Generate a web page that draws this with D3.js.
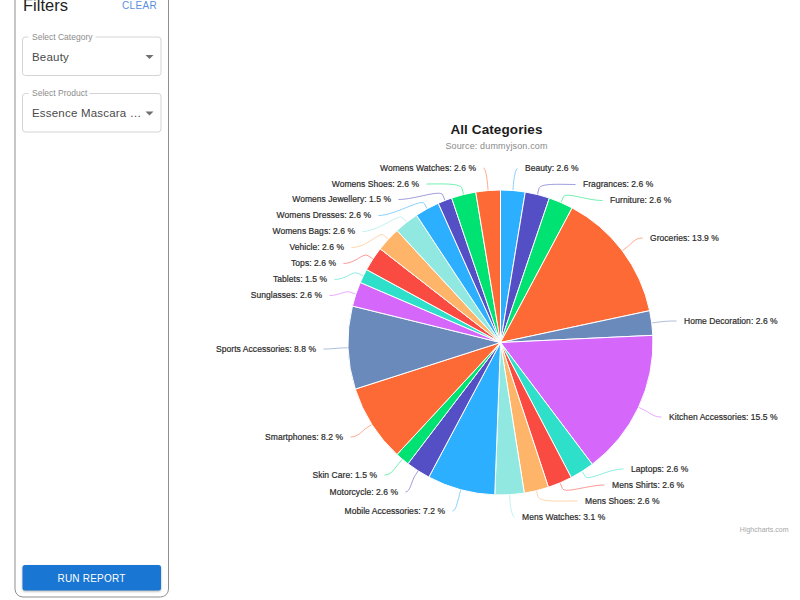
<!DOCTYPE html>
<html>
<head>
<meta charset="utf-8">
<script src="https://cdn.jsdelivr.net/npm/d3@7"></script>
<style>
  html, body { margin: 0; padding: 0; background: #fff; overflow: hidden; }
  text { font-family: "Liberation Sans", Arial, sans-serif; }
</style>
</head>
<body>
<svg id="main-svg" width="800" height="600"></svg>
<script>
// chart data, percent of all products
const categories = [
  "Beauty", "Fragrances", "Furniture", "Groceries", "Home Decoration",
  "Kitchen Accessories", "Laptops", "Mens Shirts", "Mens Shoes", "Mens Watches",
  "Mobile Accessories", "Motorcycle", "Skin Care", "Smartphones", "Sports Accessories",
  "Sunglasses", "Tablets", "Tops", "Vehicle", "Womens Bags",
  "Womens Dresses", "Womens Jewellery", "Womens Shoes", "Womens Watches",
];
const shares = [
  2.6, 2.6, 2.6, 13.9, 2.6,
  15.5, 2.6, 2.6, 2.6, 3.1,
  7.2, 2.6, 1.5, 8.2, 8.8,
  2.6, 1.5, 2.6, 2.6, 2.6,
  2.6, 1.5, 2.6, 2.6,
];
const palette = [
  "#2caffe", "#544fc5", "#00e272", "#fe6a35", "#6b8abc",
  "#d568fb", "#2ee0ca", "#fa4b42", "#feb56a", "#91e8e1",
];

// where the collision layout put each label: near edge of the text, middle of the row
const labelAnchors = [
  [525, 168.5], [583, 184.5], [610, 200.5], [650, 238], [684, 321],
  [669, 417], [631, 469], [612, 485], [585, 501], [522, 517],
  [445, 511], [398, 492], [377, 475], [343, 437], [316, 349],
  [322, 295.5], [327, 279.5], [336, 263.5], [344, 247.5], [355, 231.5],
  [371, 215.5], [391, 199.5], [419, 184], [476, 168],
];

const svg = d3.select("#main-svg");

// ---- filter panel ----
const panel = svg.append("g");

panel.append("rect")
  .attr("x", 15).attr("y", -20)
  .attr("width", 153.5).attr("height", 617)
  .attr("rx", 8)
  .attr("fill", "#fff")
  .attr("stroke", "#8f8f8f");

panel.append("text")
  .attr("x", 23).attr("y", 10.5)
  .attr("font-size", 16.5)
  .attr("fill", "#222")
  .text("Filters");

panel.append("text")
  .attr("x", 122).attr("y", 9)
  .attr("font-size", 10)
  .attr("letter-spacing", 0.35)
  .attr("fill", "#5b8fe0")
  .text("CLEAR");

const selects = [
  { label: "Select Category", value: "Beauty", top: 37, gap: 73 },
  { label: "Select Product", value: "Essence Mascara …", top: 93.5, gap: 67 },
];

selects.forEach((s) => {
  const g = panel.append("g").attr("transform", `translate(22.5, ${s.top})`);
  g.append("rect")
    .attr("width", 138.5).attr("height", 38.5)
    .attr("rx", 3)
    .attr("fill", "#fff")
    .attr("stroke", "#d4d4d4");
  // break in the outline behind the floating label
  g.append("line")
    .attr("x1", 6).attr("x2", s.gap)
    .attr("stroke", "#fff").attr("stroke-width", 2);
  g.append("text")
    .attr("x", 9.5).attr("y", 2.5)
    .attr("font-size", 8.5)
    .attr("fill", "#8c8c8c")
    .text(s.label);
  g.append("text")
    .attr("x", 9.5).attr("y", 23.5)
    .attr("font-size", 11.5)
    .attr("letter-spacing", 0.2)
    .attr("fill", "#4a4a4a")
    .text(s.value);
  g.append("path")
    .attr("d", "M123,18 L131,18 L127,22 Z")
    .attr("fill", "#6f6f6f");
});

panel.append("rect")
  .attr("x", 22.5).attr("y", 565)
  .attr("width", 138.5).attr("height", 25.5)
  .attr("rx", 2.5)
  .attr("fill", "#1976d2")
  .style("filter", "drop-shadow(0 1px 1px rgba(0,0,0,0.3))");

panel.append("text")
  .attr("x", 91.5).attr("y", 581.5)
  .attr("text-anchor", "middle")
  .attr("font-size", 10)
  .attr("letter-spacing", 0.2)
  .attr("fill", "#fff")
  .text("RUN REPORT");

// ---- pie ----
const cx = 500.5;
const cy = 342.5;
const radius = 152.5;
const breakOffset = 6; // where the connector leaves the radial direction
const labelGap = 7.5; // between connector end and text

const color = d3.scaleOrdinal().domain(categories).range(palette);
const fmt = d3.format(".1f");

const rows = categories.map((name, i) => ({ name, share: shares[i], anchor: labelAnchors[i] }));

const pie = d3.pie().value((d) => d.share).sort(null);
const arc = d3.arc().innerRadius(0).outerRadius(radius);
const arcs = pie(rows);

svg.append("text")
  .attr("x", 496.5).attr("y", 134)
  .attr("text-anchor", "middle")
  .attr("font-size", 13.5)
  .attr("font-weight", 700)
  .attr("letter-spacing", 0.1)
  .attr("fill", "#1c1c1c")
  .text("All Categories");

svg.append("text")
  .attr("x", 496.5).attr("y", 149)
  .attr("text-anchor", "middle")
  .attr("font-size", 9)
  .attr("letter-spacing", 0.15)
  .attr("fill", "#8a8a8a")
  .text("Source: dummyjson.com");

const g = svg.append("g").attr("transform", `translate(${cx}, ${cy})`);

// connectors first so the slices sit on top of them
g.selectAll("path.connector")
  .data(arcs)
  .enter()
  .append("path")
  .attr("class", "connector")
  .attr("fill", "none")
  .attr("stroke", (d) => color(d.data.name))
  .attr("stroke-width", 0.8)
  .attr("stroke-opacity", 0.7)
  .attr("d", (d) => {
    const mid = (d.startAngle + d.endAngle) / 2;
    const left = mid > Math.PI;
    const sx = Math.sin(mid);
    const sy = -Math.cos(mid);
    const tx = sx * radius;
    const ty = sy * radius;
    const bx = sx * (radius + breakOffset);
    const by = sy * (radius + breakOffset);
    const lx = d.data.anchor[0] - cx + (left ? labelGap : -labelGap);
    const ly = d.data.anchor[1] - cy;
    // keep the soft bend short when the label sits almost over the break point
    const pull = Math.min(16, Math.abs(bx - lx) * 0.5) * (left ? 1 : -1);
    return `M${lx},${ly} C${lx + pull},${ly} ${2 * bx - tx},${2 * by - ty} ${bx},${by} L${tx},${ty}`;
  });

g.selectAll("path.slice")
  .data(arcs)
  .enter()
  .append("path")
  .attr("class", "slice")
  .attr("d", arc)
  .attr("fill", (d) => color(d.data.name))
  .attr("stroke", "#fff")
  .attr("stroke-width", 1);

g.selectAll("text.label")
  .data(arcs)
  .enter()
  .append("text")
  .attr("class", "label")
  .attr("x", (d) => d.data.anchor[0] - cx)
  .attr("y", (d) => d.data.anchor[1] - cy)
  .attr("dy", "0.35em")
  .attr("text-anchor", (d) => ((d.startAngle + d.endAngle) / 2 > Math.PI ? "end" : "start"))
  .attr("font-size", 8.5)
  .attr("letter-spacing", 0.05)
  .attr("fill", "#2b2b2b")
  .attr("stroke", "#2b2b2b")
  .attr("stroke-width", 0.2)
  .text((d) => `${d.data.name}: ${fmt(d.data.share)} %`);

svg.append("text")
  .attr("x", 788.5).attr("y", 532)
  .attr("text-anchor", "end")
  .attr("font-size", 7)
  .attr("fill", "#a6a6a6")
  .text("Highcharts.com");
</script>
</body>
</html>
